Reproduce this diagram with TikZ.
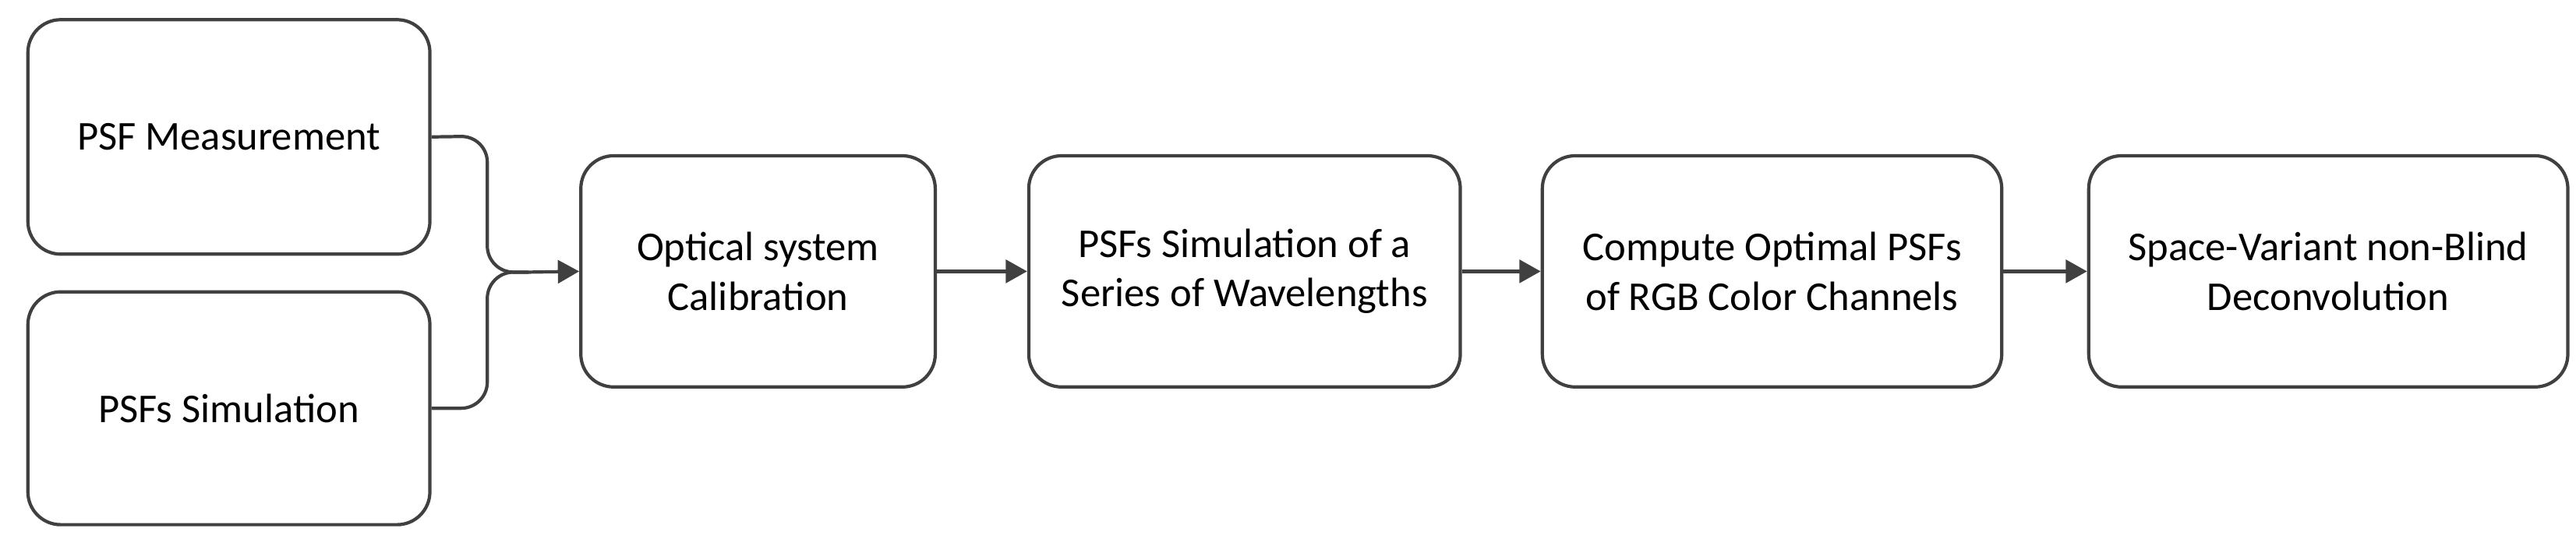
\documentclass[tikz,border=0pt]{standalone}
\usepackage{fontspec}
\setmainfont{Carlito}
\usetikzlibrary{arrows.meta}
\definecolor{ln}{HTML}{404040}
\begin{document}
\begin{tikzpicture}[x=1pt,y=-1pt,
  box/.style={draw=ln,line width=2pt,rounded corners=20pt,align=center,font=\fontsize{25}{30}\selectfont,inner sep=0pt},
  arr/.style={draw=ln,line width=2pt,-{Triangle[length=13pt,width=14pt]}},
  con/.style={draw=ln,line width=2pt}]
\useasboundingbox (0,0) rectangle (1570,337);
\node[box,minimum width=245pt,minimum height=143pt] (a) at (139.5,83.5) {PSF Measurement};
\node[box,minimum width=245pt,minimum height=142pt] (b) at (139.5,249) {PSFs Simulation};
\node[box,minimum width=216pt,minimum height=141pt] (c) at (462,165.5) {Optical system\\Calibration};
\node[box,minimum width=263pt,minimum height=141pt] (d) at (758.5,165.5) {PSFs Simulation of a\\Series of Wavelengths};
\node[box,minimum width=280pt,minimum height=141pt] (e) at (1080,165.5) {Compute Optimal PSFs\\of RGB Color Channels};
\node[box,minimum width=292pt,minimum height=141pt] (f) at (1419,165.5) {Space-Variant non-Blind\\Deconvolution};
\coordinate (m) at (322,166);
\draw[con,rounded corners=16pt] (a.east) -- (297,83) -- (297,166) -- (m);
\draw[con,rounded corners=16pt] (b.east) -- (297,249) -- (297,166) -- (m);
\draw[arr] (m) -- (c.west);
\draw[arr] (c) -- (d);
\draw[arr] (d) -- (e);
\draw[arr] (e) -- (f);
\end{tikzpicture}
\end{document}
